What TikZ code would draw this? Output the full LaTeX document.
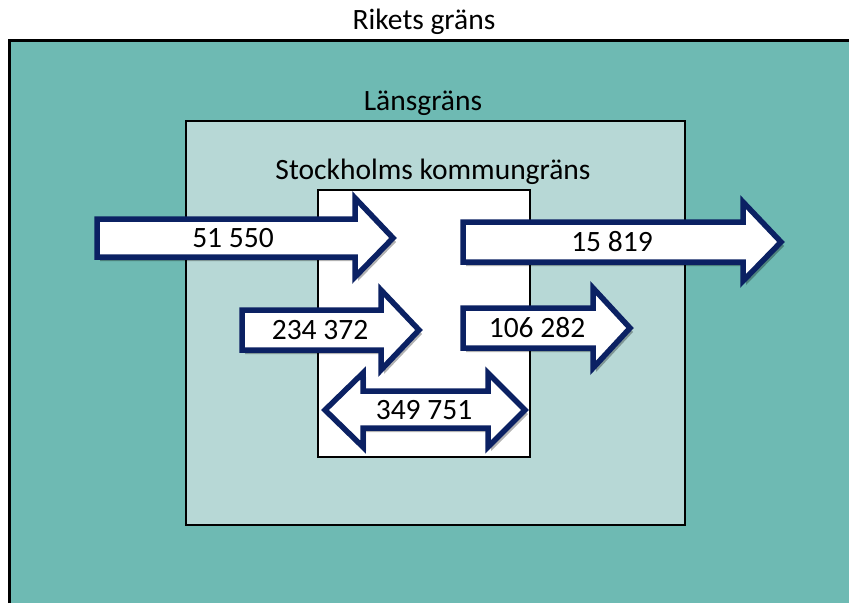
\documentclass[tikz,border=0pt]{standalone}
\usepackage{fontspec}
\setmainfont{Carlito}
\usetikzlibrary{shadows}
\definecolor{outerteal}{HTML}{6EBAB3}
\definecolor{midteal}{HTML}{B7D8D6}
\definecolor{navy}{HTML}{0B2163}
\tikzset{
  lbl/.style={font=\fontsize{29.5}{35}\selectfont, inner sep=0pt, text=black},
  flowarrow/.style={fill=white, draw=navy, line width=5.5pt, line join=miter, miter limit=10,
    drop shadow={shadow xshift=3pt, shadow yshift=-4pt, opacity=0.3, fill=black}},
}
\begin{document}
\begin{tikzpicture}[x=1pt,y=-1pt]
\useasboundingbox (0,0) rectangle (849,603);
\fill[outerteal] (9,40) rectangle (849,603);
\draw[line width=3pt] (9,603) -- (9,40) -- (849,40);
\draw[fill=midteal, line width=2.5pt] (186,121) rectangle (685,525);
\draw[fill=white, line width=2pt] (318,190) rectangle (530,457);

\node[lbl] (rike) at (424,22) {Rikets gräns};
\node[lbl] (lan) at (423,103) {Länsgräns};
\node[lbl] (kom) at (433,172) {Stockholms kommungräns};

% arrow 51 550
\draw[flowarrow] (97,219) -- (355,219) -- (355,198) -- (393,238) -- (355,277) -- (355,257) -- (97,257) -- cycle;
% arrow 15 819
\draw[flowarrow] (463,222) -- (743,222) -- (743,202) -- (781,242) -- (743,281) -- (743,262) -- (463,262) -- cycle;
% arrow 234 372
\draw[flowarrow] (242,310) -- (381,310) -- (381,290) -- (419,330) -- (381,370) -- (381,350) -- (242,350) -- cycle;
% arrow 106 282
\draw[flowarrow] (463,308) -- (593,308) -- (593,288) -- (630,328) -- (593,368) -- (593,348) -- (463,348) -- cycle;
% double arrow 349 751
\draw[flowarrow] (325,410) -- (363,373) -- (363,391) -- (488,391) -- (488,373) -- (525,410) -- (488,447) -- (488,428) -- (363,428) -- (363,447) -- cycle;

\node[lbl] (a1) at (233,238) {51 550};
\node[lbl] (a2) at (612,242) {15 819};
\node[lbl] (a3) at (320,330) {234 372};
\node[lbl] (a4) at (537,328) {106 282};
\node[lbl] (a5) at (424,410) {349 751};
\end{tikzpicture}
\end{document}
